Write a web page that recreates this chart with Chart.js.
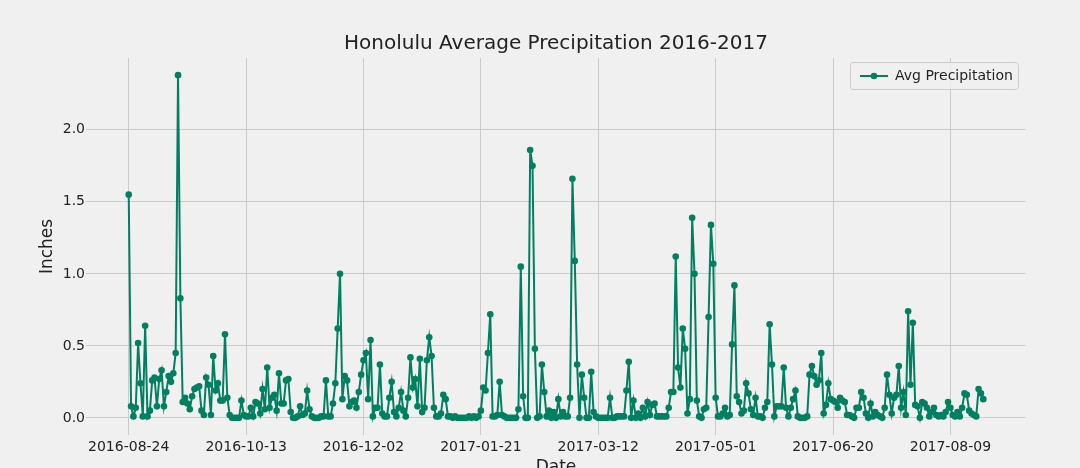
<!DOCTYPE html>
<html>
<head>
<meta charset="utf-8">
<script src="https://cdn.jsdelivr.net/npm/chart.js@4"></script>
<style>
  html, body { margin: 0; padding: 0; background: #f0f0f0; overflow: hidden; }
</style>
</head>
<body>
<canvas id="grafico" width="1080" height="478"></canvas>
<script>
// Honolulu daily average precipitation (inches), one value per day from 2016-08-24
const firstDate = '2016-08-24';
const precipitation = [
  1.55, 0.08, 0.01, 0.07, 0.52, 0.24, 0.01, 0.64, 0.01, 0.05,
  0.26, 0.28, 0.08, 0.27, 0.33, 0.08, 0.18, 0.29, 0.25, 0.31,
  0.45, 2.38, 0.83, 0.11, 0.14, 0.10, 0.06, 0.15, 0.20, 0.21,
  0.22, 0.05, 0.02, 0.28, 0.23, 0.02, 0.43, 0.19, 0.24, 0.12,
  0.12, 0.58, 0.14, 0.02, 0.00, 0.00, 0.00, 0.00, 0.12, 0.02,
  0.01, 0.01, 0.07, 0.01, 0.11, 0.10, 0.03, 0.20, 0.06, 0.35,
  0.07, 0.14, 0.16, 0.05, 0.31, 0.10, 0.10, 0.26, 0.27, 0.04,
  0.00, 0.00, 0.01, 0.08, 0.02, 0.03, 0.19, 0.06, 0.01, 0.00,
  0.00, 0.00, 0.01, 0.01, 0.26, 0.01, 0.01, 0.10, 0.24, 0.62,
  1.00, 0.13, 0.29, 0.26, 0.08, 0.11, 0.12, 0.07, 0.18, 0.30,
  0.40, 0.45, 0.13, 0.54, 0.01, 0.07, 0.07, 0.37, 0.03, 0.01,
  0.01, 0.14, 0.25, 0.04, 0.01, 0.07, 0.18, 0.05, 0.01, 0.14,
  0.42, 0.21, 0.27, 0.08, 0.41, 0.04, 0.07, 0.40, 0.56, 0.43,
  0.07, 0.01, 0.01, 0.03, 0.16, 0.13, 0.01, 0.01, 0.00, 0.01,
  0.00, 0.00, 0.00, 0.00, 0.00, 0.01, 0.00, 0.01, 0.00, 0.01,
  0.05, 0.21, 0.19, 0.45, 0.72, 0.01, 0.01, 0.02, 0.25, 0.02,
  0.01, 0.00, 0.00, 0.00, 0.00, 0.00, 0.06, 1.05, 0.15, 0.00,
  0.00, 1.86, 1.75, 0.48, 0.00, 0.01, 0.37, 0.18, 0.01, 0.05,
  0.00, 0.04, 0.00, 0.13, 0.01, 0.04, 0.01, 0.01, 0.14, 1.66,
  1.09, 0.37, 0.00, 0.30, 0.14, 0.00, 0.00, 0.32, 0.04, 0.01,
  0.00, 0.00, 0.00, 0.00, 0.00, 0.14, 0.00, 0.00, 0.01, 0.01,
  0.01, 0.01, 0.19, 0.39, 0.00, 0.12, 0.00, 0.03, 0.00, 0.07,
  0.01, 0.11, 0.02, 0.09, 0.10, 0.01, 0.01, 0.01, 0.01, 0.01,
  0.07, 0.18, 0.18, 1.12, 0.35, 0.21, 0.62, 0.48, 0.03, 0.13,
  1.39, 1.00, 0.12, 0.01, 0.00, 0.06, 0.07, 0.70, 1.34, 1.07,
  0.14, 0.01, 0.01, 0.03, 0.07, 0.01, 0.02, 0.51, 0.92, 0.15,
  0.11, 0.03, 0.05, 0.24, 0.17, 0.06, 0.02, 0.14, 0.01, 0.01,
  0.00, 0.07, 0.11, 0.65, 0.37, 0.01, 0.08, 0.08, 0.08, 0.35,
  0.07, 0.01, 0.07, 0.13, 0.19, 0.01, 0.00, 0.00, 0.00, 0.01,
  0.30, 0.36, 0.29, 0.23, 0.26, 0.45, 0.03, 0.09, 0.24, 0.13,
  0.12, 0.11, 0.07, 0.14, 0.12, 0.11, 0.02, 0.02, 0.01, 0.00,
  0.07, 0.07, 0.18, 0.14, 0.03, 0.00, 0.10, 0.01, 0.04, 0.02,
  0.01, 0.00, 0.07, 0.30, 0.16, 0.03, 0.14, 0.16, 0.36, 0.07,
  0.18, 0.02, 0.74, 0.23, 0.66, 0.09, 0.08, 0.00, 0.11, 0.10,
  0.07, 0.01, 0.04, 0.07, 0.02, 0.01, 0.02, 0.01, 0.04, 0.11,
  0.07, 0.02, 0.01, 0.04, 0.01, 0.07, 0.17, 0.16, 0.05, 0.03,
  0.02, 0.01, 0.20, 0.17, 0.13,
];
const xTickLabels = ['2016-08-24', '2016-10-13', '2016-12-02', '2017-01-21', '2017-03-12', '2017-05-01', '2017-06-20', '2017-08-09'];
const yTickValues = [0.0, 0.5, 1.0, 1.5, 2.0];
const chartTitle = 'Honolulu Average Precipitation 2016-2017';

const lineColor = '#008060';
const gridColor = '#cbcbcb';
const textColor = '#222222';

// date string for every point
const start = new Date(firstDate + 'T00:00:00Z');
const dates = precipitation.map((_, i) => {
  const d = new Date(start.getTime() + i * 86400000);
  return d.toISOString().slice(0, 10);
});

// matplotlib-like 5% margins around the data
const xPad = (precipitation.length - 1) * 0.05;
const yMax = Math.max(...precipitation);
const yPad = yMax * 0.05;

Chart.defaults.font.family = 'DejaVu Sans';
Chart.defaults.color = textColor;

// title centred over the plot area, legend box in the upper right corner
const titleAndLegend = {
  id: 'titleAndLegend',
  afterDraw(chart) {
    const c = chart.ctx;
    const area = chart.chartArea;
    c.save();
    c.fillStyle = textColor;
    c.font = '20px "DejaVu Sans"';
    c.textAlign = 'center';
    c.textBaseline = 'middle';
    c.fillText(chartTitle, (area.left + area.right) / 2, 44);

    const w = 168, h = 27;
    const x = area.right - 8 - w;
    const y = area.top + 4;
    c.beginPath();
    c.roundRect(x + 0.5, y + 0.5, w, h, 3);
    c.fillStyle = 'rgba(240,240,240,0.8)';
    c.fill();
    c.strokeStyle = '#cccccc';
    c.lineWidth = 1;
    c.stroke();
    const cy = y + h / 2 + 0.5;
    c.strokeStyle = lineColor;
    c.lineWidth = 2;
    c.beginPath();
    c.moveTo(x + 10, cy);
    c.lineTo(x + 38, cy);
    c.stroke();
    c.fillStyle = lineColor;
    c.beginPath();
    c.arc(x + 24, cy, 3.3, 0, Math.PI * 2);
    c.fill();
    c.fillStyle = textColor;
    c.font = '14px "DejaVu Sans"';
    c.textAlign = 'left';
    c.fillText(chart.data.datasets[0].label, x + 45, cy);
    c.restore();
  },
};

new Chart(document.getElementById('grafico'), {
  type: 'line',
  data: {
    datasets: [{
      label: 'Avg Precipitation',
      data: precipitation.map((v, i) => ({ x: i, y: v })),
      borderColor: lineColor,
      backgroundColor: lineColor,
      borderWidth: 2,
      pointRadius: 3.3,
      pointHoverRadius: 3.3,
      pointBorderWidth: 0,
      tension: 0,
    }],
  },
  options: {
    responsive: false,
    animation: false,
    devicePixelRatio: 1,
    layout: { padding: { left: 0, right: 54, top: 58, bottom: 0 } },
    plugins: {
      legend: { display: false },
      tooltip: { enabled: false },
      title: { display: false },
    },
    scales: {
      x: {
        type: 'linear',
        min: -xPad,
        max: precipitation.length - 1 + xPad,
        grid: { color: gridColor, drawTicks: false },
        border: { display: false },
        ticks: {
          font: { size: 14 },
          color: textColor,
          padding: 4,
          maxRotation: 0,
          callback: (v) => dates[v] ?? '',
        },
        afterBuildTicks: (scale) => {
          scale.ticks = xTickLabels.map((l) => ({ value: dates.indexOf(l) }));
        },
        afterFit: (scale) => { scale.height = 43; },
        title: { display: true, text: 'Date', font: { size: 17 }, color: textColor, padding: { top: 2, bottom: 0 } },
      },
      y: {
        min: -yPad,
        max: yMax + yPad,
        grid: { color: gridColor, drawTicks: false },
        border: { display: false },
        ticks: {
          font: { size: 14 },
          color: textColor,
          padding: 1,
          callback: (v) => v.toFixed(1),
        },
        afterBuildTicks: (scale) => {
          scale.ticks = yTickValues.map((v) => ({ value: v }));
        },
        afterFit: (scale) => { scale.width = 86; },
        title: { display: true, text: 'Inches', font: { size: 17 }, color: textColor, padding: { top: 37, bottom: 0 } },
      },
    },
  },
  plugins: [titleAndLegend],
});
</script>
</body>
</html>
